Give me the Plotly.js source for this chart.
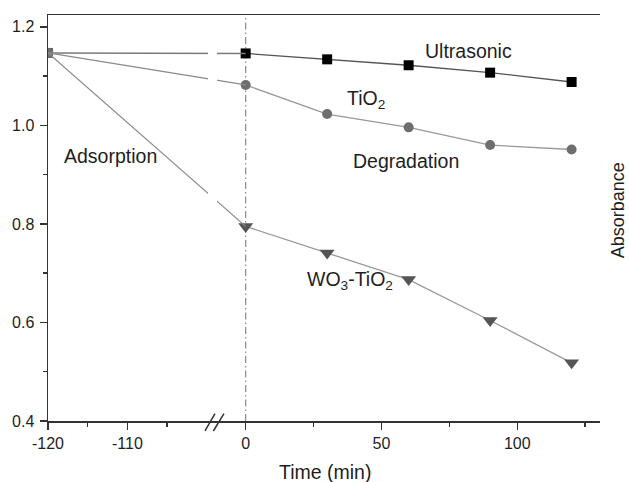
<!DOCTYPE html>
<html>
<head>
<meta charset="utf-8">
<script src="https://cdn.plot.ly/plotly-3.0.1.min.js"></script>
<style>html,body{margin:0;padding:0;background:#fff;}#chart{width:629px;height:482px;}</style>
</head>
<body>
<div id="chart"></div>
<script>
// ---- data ----
const startTime = -120;
const startValue = 1.147;
const times = [0, 30, 60, 90, 120];
const ultrasonic = [1.146, 1.134, 1.122, 1.107, 1.088];
const tio2 = [1.082, 1.023, 0.996, 0.960, 0.951];
const wo3tio2 = [0.795, 0.741, 0.687, 0.604, 0.518];

const leftTickVals = [-120, -110];
const leftTickText = ['-120', '-110'];
const leftMinor = [-115, -105];
const rightTickVals = [0, 50, 100];
const rightTickText = ['0', '50', '100'];
const rightMinor = [25, 75, 125];
const yTickVals = [0.4, 0.6, 0.8, 1.0, 1.2];
const yTickText = ['0.4', '0.6', '0.8', '1.0', '1.2'];
const yMinor = [0.5, 0.7, 0.9, 1.1];

// ---- layout geometry ----
const W = 629, H = 482;
const mL = 48, mR = 29, mT = 15, mB = 61;
const plotW = W - mL - mR;
const dBreak = 0.3025;
const leftRange = [-120, -98.97];
const rightRange = [-11.3, 130.45];
// hidden axis so that -120 and 0 line up with the two visible axes
const px0 = dBreak * plotW + (0 - rightRange[0]) / (rightRange[1] - rightRange[0]) * (1 - dBreak) * plotW;
const pxPerUnit3 = px0 / 120;
const hiddenRange = [-120, -120 + plotW / pxPerUnit3];

const FONT = 'Liberation Sans, Arial, sans-serif';
const AX = '#333';
const tickFont = {family: FONT, size: 16, color: '#1e1e1e'};
const txtFont = {family: FONT, size: 19.5, color: '#1e1e1e'};

function xAxisBase(domain, range, tv, tt, minor) {
  return {
    domain: domain, range: range, anchor: 'y',
    showline: true, linecolor: AX, linewidth: 1.5, mirror: true,
    ticks: 'outside', ticklen: 7, tickwidth: 1.5, tickcolor: AX,
    tickmode: 'array', tickvals: tv, ticktext: tt,
    minor: {tickmode: 'array', tickvals: minor, ticks: 'outside', ticklen: 4, tickwidth: 1.5, tickcolor: AX, showgrid: false},
    showgrid: false, zeroline: false, tickfont: tickFont, fixedrange: true
  };
}

const adsColor = '#8a8a8a';
const traces = [
  // adsorption period lines
  {x: [startTime, times[0]], y: [startValue, ultrasonic[0]], xaxis: 'x3', yaxis: 'y', mode: 'lines', line: {color: '#7a7a7a', width: 1.4}, hoverinfo: 'skip'},
  {x: [startTime, times[0]], y: [startValue, tio2[0]], xaxis: 'x3', yaxis: 'y', mode: 'lines', line: {color: adsColor, width: 1.3}, hoverinfo: 'skip'},
  {x: [startTime, times[0]], y: [startValue, wo3tio2[0]], xaxis: 'x3', yaxis: 'y', mode: 'lines', line: {color: adsColor, width: 1.3}, hoverinfo: 'skip'},
  // start markers
  {x: [startTime], y: [startValue], xaxis: 'x', yaxis: 'y', mode: 'markers', marker: {symbol: 'square', size: 10, color: '#666'}},
  {x: [startTime], y: [startValue], xaxis: 'x', yaxis: 'y', mode: 'markers', marker: {symbol: 'circle', size: 9, color: '#707070'}},
  {x: [startTime], y: [startValue], xaxis: 'x', yaxis: 'y', mode: 'markers', marker: {symbol: 'triangle-down', size: 10, color: '#707070'}},
  // degradation
  {x: times, y: ultrasonic, xaxis: 'x2', yaxis: 'y', mode: 'lines+markers', name: 'Ultrasonic',
   line: {color: '#555', width: 1.3}, marker: {symbol: 'square', size: 10, color: '#000'}},
  {x: times, y: tio2, xaxis: 'x2', yaxis: 'y', mode: 'lines+markers', name: 'TiO2',
   line: {color: '#999', width: 1.3}, marker: {symbol: 'circle', size: 10, color: '#6e6e6e'}},
  {x: times, y: wo3tio2, xaxis: 'x2', yaxis: 'y', mode: 'lines+markers', name: 'WO3-TiO2',
   line: {color: '#999', width: 1.3}, marker: {symbol: 'triangle-down', size: 13, color: '#555'}}
];

const layout = {
  width: W, height: H,
  margin: {l: mL, r: mR, t: mT, b: mB, pad: 0},
  paper_bgcolor: '#fff', plot_bgcolor: 'rgba(0,0,0,0)',
  showlegend: false,
  xaxis: xAxisBase([0, dBreak], leftRange, leftTickVals, leftTickText, leftMinor),
  xaxis2: xAxisBase([dBreak, 1], rightRange, rightTickVals, rightTickText, rightMinor),
  xaxis3: {domain: [0, 1], range: hiddenRange, anchor: 'y', visible: false, fixedrange: true},
  yaxis: {
    domain: [0, 1], range: [0.4, 1.224], anchor: 'x', side: 'left',
    showline: true, linecolor: AX, linewidth: 1.5,
    ticks: 'outside', ticklen: 7, tickwidth: 1.5, tickcolor: AX, ticklabelstandoff: 2,
    tickmode: 'array', tickvals: yTickVals, ticktext: yTickText,
    minor: {tickmode: 'array', tickvals: yMinor, ticks: 'outside', ticklen: 4, tickwidth: 1.5, tickcolor: AX, showgrid: false},
    showgrid: false, zeroline: false, tickfont: tickFont, fixedrange: true
  },
  yaxis2: {
    overlaying: 'y', side: 'right', anchor: 'x2', range: [0.4, 1.224],
    showline: true, linecolor: AX, linewidth: 1.5, ticks: '', showticklabels: false,
    showgrid: false, zeroline: false, fixedrange: true
  },
  shapes: [
    {type: 'line', xref: 'x2', yref: 'paper', x0: 0, x1: 0, y0: 0, y1: 1,
     line: {color: '#8a8a8a', width: 1.2, dash: '7px,3px,1.5px,3px'}, layer: 'below'},
    {type: 'rect', xref: 'paper', yref: 'paper', x0: 0.2899, x1: 0.3062, y0: 0.1, y1: 0.95,
     fillcolor: '#fff', line: {width: 0}, layer: 'above'},
    {type: 'line', xref: 'paper', yref: 'paper', x0: 0.2844, y0: -0.0246, x1: 0.3025, y1: 0.0182,
     line: {color: AX, width: 1.5}, layer: 'above'},
    {type: 'line', xref: 'paper', yref: 'paper', x0: 0.2995, y0: -0.0246, x1: 0.3188, y1: 0.0182,
     line: {color: AX, width: 1.5}, layer: 'above'}
  ],
  annotations: [
    {text: 'Ultrasonic', xref: 'x2', yref: 'y', x: 65.4, y: 1.151, xanchor: 'left', yanchor: 'middle', showarrow: false, font: txtFont},
    {text: 'TiO<sub>2</sub>', xref: 'x2', yref: 'y', x: 36.5, y: 1.052, xanchor: 'left', yanchor: 'middle', showarrow: false, font: txtFont},
    {text: 'Degradation', xref: 'x2', yref: 'y', x: 38.7, y: 0.928, xanchor: 'left', yanchor: 'middle', showarrow: false, font: txtFont},
    {text: 'Adsorption', xref: 'x', yref: 'y', x: -118.3, y: 0.9385, xanchor: 'left', yanchor: 'middle', showarrow: false, font: txtFont},
    {text: 'WO<sub>3</sub>-TiO<sub>2</sub>', xref: 'x2', yref: 'y', x: 21.8, y: 0.686, xanchor: 'left', yanchor: 'middle', showarrow: false, font: txtFont},
    {text: 'Time (min)', xref: 'paper', yref: 'paper', x: 0.5018, y: -0.1265, xanchor: 'center', yanchor: 'middle', showarrow: false, font: txtFont},
    {text: 'Absorbance', xref: 'paper', yref: 'paper', x: 1.0326, y: 0.519, xanchor: 'center', yanchor: 'middle', textangle: -90, showarrow: false,
     font: {family: FONT, size: 18, color: '#1e1e1e'}}
  ]
};

Plotly.newPlot('chart', traces, layout, {staticPlot: true, displayModeBar: false});
</script>
</body>
</html>
